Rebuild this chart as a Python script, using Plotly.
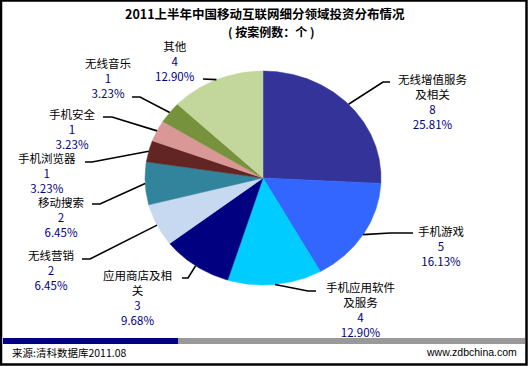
import math
import plotly.graph_objects as go

# ---------------- data ----------------
categories = ["无线增值服务及相关", "手机游戏", "手机应用软件及服务", "应用商店及相关",
              "无线营销", "移动搜索", "手机浏览器", "手机安全", "无线音乐", "其他"]
label_text = ["无线增值服务<br>及相关", "手机游戏", "手机应用软件<br>及服务", "应用商店及相<br>关",
              "无线营销", "移动搜索", "手机浏览器", "手机安全", "无线音乐", "其他"]
values = [8, 5, 4, 3, 2, 2, 1, 1, 1, 4]
colors = ["#333399", "#3366FF", "#00CCFF", "#000080", "#C6D9F0",
          "#31849B", "#632523", "#D99795", "#76923C", "#C3D69B"]

title_line1 = "2011上半年中国移动互联网细分领域投资分布情况"
title_line2 = "(&nbsp;按案例数：个&nbsp;)"
source_text = "来源:清科数据库2011.08"
site_text = "www.zdbchina.com"

# ---------------- layout / style (pixel space) ----------------
W, H = 531, 366
CX, CY, RX, RY = 263, 178, 118, 107
# label centre x, first-line centre y, elbow point, label-side end of leader
label_pos = [
    (432, 77, (383, 82), (390, 82)),
    (441, 229, (390, 233), (413, 233)),
    (360, 285, (308, 291), (316, 291)),
    (137, 273, (188, 278), (182, 278)),
    (51, 253, (90, 259), (82, 259)),
    (61, 200, (100, 204), (92, 204)),
    (47, 156, (92, 162), (85, 162)),
    (72, 112, (112, 117), (103, 117)),
    (108, 61, (140, 97), (132, 97)),
    (175, 44, (210, 79), (203, 79)),
]
NUM_COLOR = "#000080"
FONT = "Noto Sans CJK SC"

fig = go.Figure()
total = sum(values)


def pt(theta):
    return CX + RX * math.sin(theta), CY - RY * math.cos(theta)


cum = 0.0
annotations = []
for i, v in enumerate(values):
    a0 = cum / total * 2 * math.pi
    a1 = (cum + v) / total * 2 * math.pi
    n = max(8, int(v * 20))
    xs, ys = [CX], [CY]
    for k in range(n + 1):
        x, y = pt(a0 + (a1 - a0) * k / n)
        xs.append(x)
        ys.append(y)
    xs.append(CX)
    ys.append(CY)
    fig.add_trace(go.Scatter(x=xs, y=ys, fill="toself", fillcolor=colors[i],
                             mode="lines", line=dict(width=0.5, color=colors[i]),
                             hoverinfo="skip", showlegend=False))
    # leader line from slice mid-angle on the edge
    am = (a0 + a1) / 2
    ax, ay = pt(am)
    lx, ly, elbow, end = label_pos[i]
    fig.add_trace(go.Scatter(x=[ax, elbow[0], end[0]], y=[ay, elbow[1], end[1]],
                             mode="lines", line=dict(width=1.6, color="black"),
                             hoverinfo="skip", showlegend=False))
    pct = v / total * 100
    txt = (f"{label_text[i]}<br><span style='color:{NUM_COLOR}'>{v}</span>"
           f"<br><span style='color:{NUM_COLOR}'>{pct:.2f}%</span>")
    annotations.append(dict(x=lx, y=ly - 8, xref="x", yref="y", text=txt,
                            showarrow=False, xanchor="center", yanchor="top",
                            align="center", font=dict(family=FONT, size=11.5, color="black")))
    cum += v

annotations += [
    dict(x=265, y=13, xref="x", yref="y", text=f"<b>{title_line1}</b>", showarrow=False,
         xanchor="center", yanchor="middle", font=dict(family=FONT, size=12.5, color="black")),
    dict(x=271, y=31, xref="x", yref="y", text=f"<b>{title_line2}</b>", showarrow=False,
         xanchor="center", yanchor="middle", font=dict(family=FONT, size=12, color="black")),
    dict(x=10, y=352, xref="x", yref="y", text=source_text, showarrow=False,
         xanchor="left", yanchor="middle", font=dict(family=FONT, size=10.5, color="black")),
    dict(x=519, y=352, xref="x", yref="y", text=site_text, showarrow=False,
         xanchor="right", yanchor="middle", font=dict(family="Liberation Sans", size=10.5, color="black")),
]

shapes = [
    dict(type="rect", xref="x", yref="y", x0=3, x1=178, y0=338, y1=344,
         fillcolor="#000080", line=dict(width=0)),
    dict(type="rect", xref="x", yref="y", x0=178, x1=525, y0=338, y1=344,
         fillcolor="#999999", line=dict(width=0)),
    dict(type="rect", xref="x", yref="y", x0=1, x1=526.5, y0=0.5, y1=364.5,
         fillcolor="rgba(0,0,0,0)", line=dict(width=2.5, color="black")),
]

fig.update_layout(
    width=W, height=H, margin=dict(l=0, r=0, t=0, b=0),
    paper_bgcolor="white", plot_bgcolor="white",
    xaxis=dict(range=[0, W], visible=False, fixedrange=True, domain=[0, 1]),
    yaxis=dict(range=[H, 0], visible=False, fixedrange=True, domain=[0, 1]),
    annotations=annotations, shapes=shapes, showlegend=False,
)

fig.write_html("out.html", config={"displayModeBar": False},
               post_script="document.body.style.margin='0';document.body.style.overflow='hidden';")
